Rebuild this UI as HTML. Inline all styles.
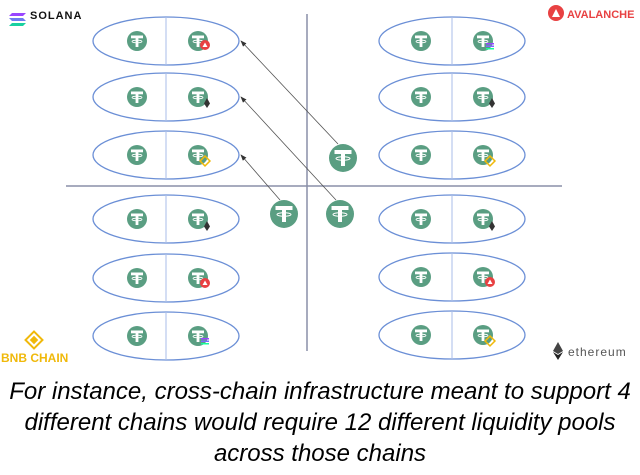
<!DOCTYPE html>
<html><head><style>
body{margin:0;background:#fff;width:640px;height:475px;overflow:hidden;}
.cap{position:absolute;left:0;width:640px;top:376px;text-align:center;font-family:"Liberation Sans",sans-serif;font-style:italic;font-size:24px;line-height:31px;color:#000;white-space:nowrap;}
</style></head><body>
<svg width="640" height="475" style="position:absolute;left:0;top:0" font-family="Liberation Sans, sans-serif">
<defs>
<g id="c"><circle r="10" fill="#5a9e82"/><rect x="-6" y="-5.5" width="12" height="2.8" fill="#fff"/><rect x="-1.4" y="-4" width="2.8" height="10" fill="#fff"/><ellipse cx="0" cy="0.5" rx="5" ry="1.3" fill="none" stroke="#fff" stroke-width="0.8"/></g>
<g id="C"><circle r="14" fill="#5a9e82"/><rect x="-8.5" y="-8" width="17" height="4" fill="#fff"/><rect x="-2" y="-6" width="4" height="14" fill="#fff"/><ellipse cx="0" cy="0.5" rx="7" ry="1.8" fill="none" stroke="#fff" stroke-width="1"/></g>
<g id="av"><circle r="5" fill="#e84142"/><path d="M-2.5 2L0 -2.5L2.5 2Z" fill="#fff"/></g>
<g id="et"><path d="M0 -5L3 0.5L0 5L-3 0.5Z" fill="#333"/></g>
<g id="bn"><rect x="-3.5" y="-3.5" width="7" height="7" transform="rotate(45)" fill="none" stroke="#f0b90b" stroke-width="1.5"/></g>
<g id="so"><rect x="-4" y="-3" width="8" height="1.5" fill="#9945ff"/><rect x="-4" y="-0.5" width="8" height="1.5" fill="#7a6bff"/><rect x="-4" y="2" width="8" height="1.5" fill="#19fb9b"/></g>
<marker id="ah" markerWidth="8" markerHeight="6" refX="7" refY="3" orient="auto"><path d="M0 0L8 3L0 6Z" fill="#333"/></marker>
</defs>
<line x1="307" y1="14" x2="307" y2="351" stroke="#8a8fa8" stroke-width="1.5"/>
<line x1="66" y1="186" x2="562" y2="186" stroke="#8a8fa8" stroke-width="1.5"/>
<g fill="none" stroke="#6b8fd6" stroke-width="1.3">
<ellipse cx="166" cy="41" rx="73" ry="24"/><ellipse cx="166" cy="97" rx="73" ry="24"/><ellipse cx="166" cy="155" rx="73" ry="24"/>
<ellipse cx="166" cy="219" rx="73" ry="24"/><ellipse cx="166" cy="278" rx="73" ry="24"/><ellipse cx="166" cy="336" rx="73" ry="24"/>
<ellipse cx="452" cy="41" rx="73" ry="24"/><ellipse cx="452" cy="97" rx="73" ry="24"/><ellipse cx="452" cy="155" rx="73" ry="24"/>
<ellipse cx="452" cy="219" rx="73" ry="24"/><ellipse cx="452" cy="277" rx="73" ry="24"/><ellipse cx="452" cy="335" rx="73" ry="24"/>
</g>
<g stroke="#a9bde8" stroke-width="1">
<line x1="166" y1="17" x2="166" y2="65"/><line x1="166" y1="73" x2="166" y2="121"/><line x1="166" y1="131" x2="166" y2="179"/>
<line x1="166" y1="195" x2="166" y2="243"/><line x1="166" y1="254" x2="166" y2="302"/><line x1="166" y1="312" x2="166" y2="360"/>
<line x1="452" y1="17" x2="452" y2="65"/><line x1="452" y1="73" x2="452" y2="121"/><line x1="452" y1="131" x2="452" y2="179"/>
<line x1="452" y1="195" x2="452" y2="243"/><line x1="452" y1="253" x2="452" y2="301"/><line x1="452" y1="311" x2="452" y2="359"/>
</g>
<use href="#c" x="137" y="41"/><use href="#c" x="198" y="41"/><use href="#av" x="205" y="45"/>
<use href="#c" x="137" y="97"/><use href="#c" x="198" y="97"/><use href="#et" x="207" y="103"/>
<use href="#c" x="137" y="155"/><use href="#c" x="198" y="155"/><use href="#bn" x="205" y="161"/>
<use href="#c" x="137" y="219"/><use href="#c" x="198" y="219"/><use href="#et" x="207" y="226"/>
<use href="#c" x="137" y="278"/><use href="#c" x="198" y="278"/><use href="#av" x="205" y="283"/>
<use href="#c" x="137" y="336"/><use href="#c" x="198" y="336"/><use href="#so" x="205" y="341"/>
<use href="#c" x="421" y="41"/><use href="#c" x="483" y="41"/><use href="#so" x="490" y="46"/>
<use href="#c" x="421" y="97"/><use href="#c" x="483" y="97"/><use href="#et" x="492" y="103"/>
<use href="#c" x="421" y="155"/><use href="#c" x="483" y="155"/><use href="#bn" x="490" y="161"/>
<use href="#c" x="421" y="219"/><use href="#c" x="483" y="219"/><use href="#et" x="492" y="226"/>
<use href="#c" x="421" y="277"/><use href="#c" x="483" y="277"/><use href="#av" x="490" y="282"/>
<use href="#c" x="421" y="335"/><use href="#c" x="483" y="335"/><use href="#bn" x="490" y="341"/>
<g stroke="#555" stroke-width="0.8">
<line x1="338" y1="144" x2="241" y2="41" marker-end="url(#ah)"/>
<line x1="336" y1="200" x2="241" y2="97" marker-end="url(#ah)"/>
<line x1="280" y1="200" x2="241" y2="155" marker-end="url(#ah)"/>
</g>
<use href="#C" x="343" y="158"/><use href="#C" x="284" y="214"/><use href="#C" x="340" y="214"/>
<g transform="translate(9,13)"><path d="M3 0H17L14 3H0Z" fill="#9945ff"/><path d="M0 5H14L17 8H3Z" fill="#6c7cf0"/><path d="M3 10H17L14 13H0Z" fill="#19d1a0"/></g>
<text x="30" y="19" font-size="11" font-weight="bold" letter-spacing="1" fill="#111">SOLANA</text>
<circle cx="556" cy="13" r="8" fill="#e84142"/><path d="M552 17L556 9L560 17Z" fill="#fff"/>
<text x="567" y="18" font-size="11" font-weight="bold" fill="#e84142">AVALANCHE</text>
<g transform="translate(34,340) rotate(45)" fill="none" stroke="#f0b90b" stroke-width="2"><rect x="-6" y="-6" width="12" height="12"/><rect x="-2" y="-2" width="4" height="4" fill="#f0b90b"/></g>
<text x="1" y="362" font-size="12" font-weight="bold" fill="#f0b90b">BNB CHAIN</text>
<path d="M558 342L563 351L558 354L553 351Z" fill="#444"/><path d="M553 352L558 355L563 352L558 360Z" fill="#222"/>
<text x="568" y="356" font-size="12" letter-spacing="1" fill="#555">ethereum</text>
</svg>
<div class="cap">For instance, cross-chain infrastructure meant to support 4<br>different chains would require 12 different liquidity pools<br>across those chains</div>
</body></html>
